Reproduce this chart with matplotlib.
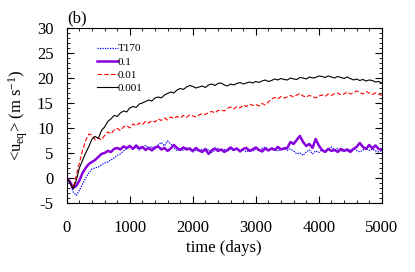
import numpy as np
import matplotlib
matplotlib.use("Agg")
import matplotlib.pyplot as plt
from matplotlib.ticker import MultipleLocator

plt.rcParams['font.family'] = ['Liberation Serif', 'DejaVu Serif']
plt.rcParams['mathtext.fontset'] = 'custom'
plt.rcParams['mathtext.rm'] = 'Liberation Serif'
plt.rcParams['mathtext.it'] = 'Liberation Serif:italic'
plt.rcParams['axes.unicode_minus'] = False

time = np.arange(0, 5001, 50)

u_001 = [0, -1.0, -2.2, -0.5, 2.0, 3.5, 5.0, 6.3, 7.8, 8.3, 7.9, 9.5, 10.2, 11.3, 11.8, 12.5, 12.3, 13.0, 13.4, 13.2,
         14.0, 14.3, 14.1, 14.8, 15.0, 15.3, 15.6, 15.4, 16.0, 16.2, 16.0, 16.6, 16.9, 17.2, 17.0, 17.6, 17.9, 17.7, 18.2, 18.5,
         18.3, 18.0, 18.2, 18.4, 18.1, 18.6, 18.8, 18.5, 18.9, 19.0, 18.6, 18.4, 18.8, 18.6, 18.9, 19.1, 18.8, 19.0, 19.2, 19.0,
         19.3, 19.1, 19.4, 19.6, 19.3, 19.5, 19.8, 19.6, 19.9, 19.7, 19.6, 20.0, 19.8, 19.7, 20.1, 20.0, 19.8, 20.2, 20.0, 20.1,
         20.4, 20.3, 20.1, 20.4, 20.2, 20.0, 20.3, 20.1, 19.9, 20.2, 19.9, 19.6, 19.8, 19.5, 19.7, 19.4, 19.6, 19.5, 19.2, 19.3,
         19.0]

u_01 = [0, -1.0, -2.0, 0.5, 3.0, 5.5, 7.5, 8.8, 8.6, 7.6, 8.0, 7.6, 8.5, 9.2, 8.8, 9.6, 9.9, 9.5, 10.2, 10.5,
        10.0, 10.8, 10.4, 11.0, 10.7, 11.3, 11.0, 11.5, 11.2, 11.8, 11.5, 12.0, 11.6, 12.2, 11.9, 12.3, 12.0, 12.5, 12.1, 12.6,
        12.4, 12.2, 12.6, 12.9, 12.7, 13.1, 13.3, 13.0, 13.5, 13.6, 13.4, 13.9, 14.2, 13.8, 14.3, 14.0, 14.6, 14.3, 14.8, 14.5,
        14.7, 14.4, 14.9, 14.6, 15.2, 15.8, 16.1, 15.8, 16.3, 16.0, 16.2, 16.5, 16.2, 16.6, 16.9, 16.4, 16.2, 16.5, 16.3, 16.0,
        16.4, 16.6, 16.3, 16.8, 16.5, 16.9, 17.0, 16.6, 16.8, 17.2, 16.8, 17.0, 17.4, 17.1, 16.8, 17.3, 17.0, 16.7, 17.0, 16.8,
        16.5]

u_1 = [0, -0.8, -2.0, -1.6, -0.5, 1.0, 2.0, 2.8, 3.2, 3.6, 4.2, 4.8, 5.0, 5.4, 5.2, 5.8, 6.0, 5.7, 6.3, 6.0,
       6.4, 5.8, 6.5, 5.9, 6.2, 5.6, 6.0, 5.5, 6.1, 6.3, 5.7, 6.0, 5.4, 5.9, 6.6, 6.0, 5.6, 6.1, 5.7, 5.9,
       5.4, 6.0, 5.5, 5.2, 5.8, 4.8, 5.5, 5.9, 5.4, 5.7, 5.2, 5.6, 6.1, 5.6, 5.9, 5.3, 5.8, 6.0, 5.4, 5.7,
       6.1, 5.6, 5.3, 5.9, 5.5, 5.9, 5.6, 6.2, 5.7, 5.9, 6.0, 7.2, 6.8, 7.6, 8.4, 7.2, 6.4, 6.8, 6.0, 7.8,
       6.5, 5.6, 5.2, 5.8, 5.4, 5.6, 5.2, 5.8, 5.4, 5.7, 5.2, 5.8, 6.2, 7.0, 6.2, 5.8, 6.6, 5.9, 6.5, 5.8,
       5.6]

u_t170 = [0, -1.0, -2.8, -3.5, -2.5, -1.2, 0.0, 1.0, 1.8, 2.0, 2.2, 2.6, 3.0, 3.2, 3.6, 4.0, 4.5, 4.8, 5.4, 5.8,
          6.4, 5.8, 6.2, 5.6, 6.0, 6.5, 5.9, 6.3, 5.8, 6.6, 7.1, 6.4, 7.4, 6.8, 6.0, 5.4, 5.8, 5.5, 6.0, 5.6,
          5.2, 5.6, 5.3, 5.8, 5.4, 5.7, 5.1, 5.5, 5.9, 5.4, 5.7, 5.3, 5.8, 5.5, 5.9, 5.4, 5.6, 5.2, 5.7, 5.3,
          5.8, 5.5, 5.9, 6.2, 5.6, 6.0, 5.7, 5.4, 5.8, 6.0, 5.5, 5.8, 5.4, 4.8, 5.0, 4.5, 5.2, 5.6, 4.8, 5.4,
          5.1, 5.6, 5.3, 5.8, 6.2, 5.6, 5.9, 5.4, 5.7, 5.3, 5.6, 5.9, 5.5, 5.2, 5.6, 6.0, 5.5, 5.8, 5.4, 5.2,
          5.5]

labels = ['T170', '0.1', '0.01', '0.001']

fig = plt.figure(figsize=(4.15, 2.72), dpi=100)
ax = fig.add_axes([0.161, 0.254, 0.759, 0.643])

ax.plot(time, u_t170, color='#0000ff', ls=(0, (1, 1)), lw=0.9, label=labels[0])
ax.plot(time, u_1, color='#8800dd', ls='-', lw=1.8, label=labels[1])
ax.plot(time, u_01, color='#ff0000', ls=(0, (4, 2)), lw=0.8, label=labels[2])
ax.plot(time, u_001, color='#000000', ls='-', lw=0.8, label=labels[3])

ax.set_xlim(0, 5000)
ax.set_ylim(-5, 30)
ax.xaxis.set_major_locator(MultipleLocator(1000))
ax.xaxis.set_minor_locator(MultipleLocator(200))
ax.yaxis.set_major_locator(MultipleLocator(5))
ax.yaxis.set_minor_locator(MultipleLocator(1))
ax.tick_params(which='both', direction='in', top=True, right=True, labelsize=12)
ax.tick_params(axis='y', which='both', pad=9.5)
ax.tick_params(axis='x', which='both', pad=12)
ax.tick_params(which='major', length=5, width=0.8)
ax.tick_params(which='minor', length=2.5, width=0.6)
for s in ax.spines.values():
    s.set_linewidth(0.8)

ax.set_xlabel('time (days)', fontsize=12, labelpad=3)
ax.set_ylabel(r'<u$_{\mathregular{eq}}$> (m s$^{\mathregular{-1}}$)', fontsize=12, labelpad=5)
ax.set_title('(b)', loc='left', fontsize=12, pad=4)

leg = ax.legend(loc='upper left', bbox_to_anchor=(0.07, 0.955), frameon=False, fontsize=8,
                handlelength=1.9, handletextpad=0.0, labelspacing=0.3, borderpad=0.2)

fig.savefig('out.png', dpi=100)
